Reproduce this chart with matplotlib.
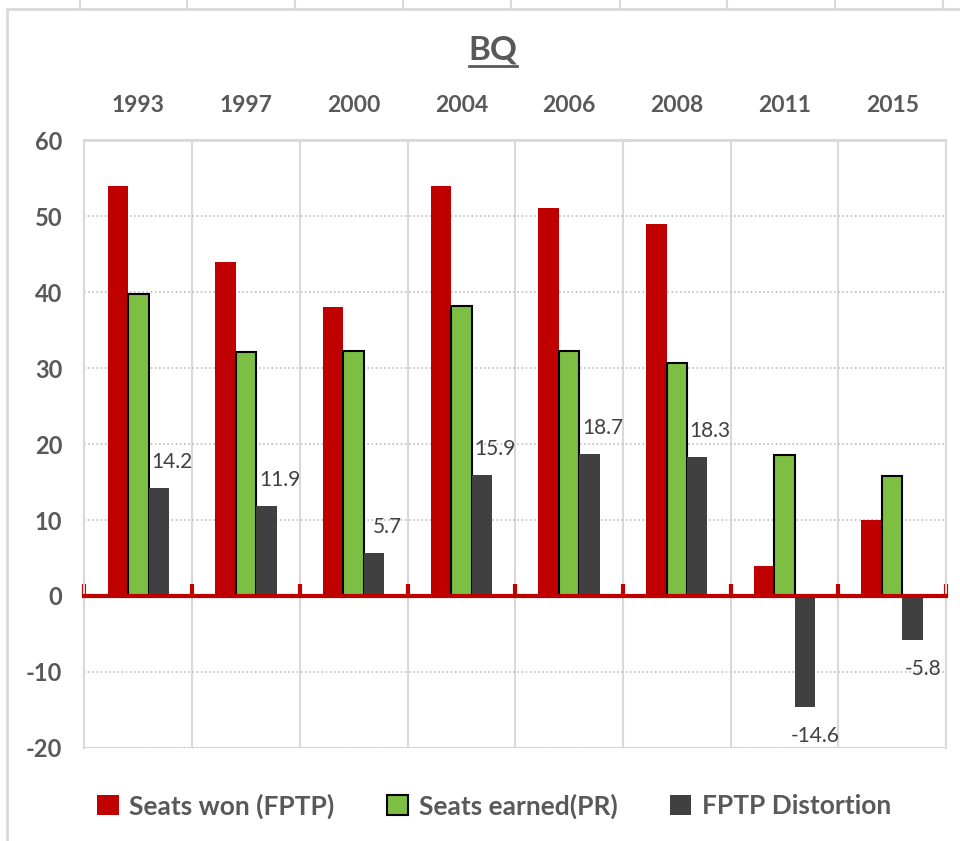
import numpy as np
import matplotlib
matplotlib.use("Agg")
import matplotlib.pyplot as plt
from matplotlib.lines import Line2D
from matplotlib.patches import Rectangle

# data
years = ["1993", "1997", "2000", "2004", "2006", "2008", "2011", "2015"]
seats_won = [54, 44, 38, 54, 51, 49, 4, 10]
seats_earned = [39.8, 32.1, 32.3, 38.1, 32.3, 30.7, 18.6, 15.8]
distortion = [14.2, 11.9, 5.7, 15.9, 18.7, 18.3, -14.6, -5.8]

RED = "#C00000"
GREEN = "#7DBF42"
DARK = "#404040"
GRID = "#D9D9D9"
TXT = "#595959"

plt.rcParams["font.family"] = ["Lato", "DejaVu Sans"]
plt.rcParams["font.weight"] = "bold"
plt.rcParams["axes.unicode_minus"] = False

fig = plt.figure(figsize=(9.6, 8.41), dpi=100)
ax = fig.add_axes([0.088, 0.1106, 0.8974, 0.7229])

x = np.arange(len(years))
w = 0.19
ax.bar(x - w, seats_won, w, color=RED, label="Seats won (FPTP)", zorder=3)
ax.bar(x, seats_earned, w, color=GREEN, edgecolor="black", linewidth=1.5,
       label="Seats earned(PR)", zorder=3)
bars = ax.bar(x + w, distortion, w, color=DARK, label="FPTP Distortion", zorder=3)

# data labels for distortion
for b, v in zip(bars, distortion):
    cx = b.get_x() + b.get_width() / 2
    off = (13, 26) if v >= 0 else (10, -29)
    ax.annotate(f"{v:.1f}", (cx, v), xytext=off, textcoords="offset pixels",
                ha="center", va="center", fontsize=15, fontweight="normal",
                color=DARK, zorder=4)

ax.set_xlim(-0.5, len(years) - 0.5)
ax.set_ylim(-20, 60)
ax.set_yticks(np.arange(-20, 61, 10))

# years on top, category boundaries as minor ticks
ax.set_xticks(x)
ax.set_xticklabels(years)
ax.set_xticks(np.arange(-0.5, len(years), 1.0), minor=True)
ax.tick_params(axis="x", which="major", bottom=False, top=False,
               labelbottom=False, labeltop=True, pad=14,
               labelsize=16.5, labelcolor=TXT)
ax.tick_params(axis="x", which="minor", bottom=True, top=False, direction="in",
               length=9, width=3, color=RED)
ax.tick_params(axis="y", length=0, pad=16, labelsize=17, labelcolor=TXT)

# grid
ax.grid(axis="x", which="minor", color=GRID, linewidth=1.5, linestyle="-", zorder=0)
ax.grid(axis="x", which="major", visible=False)
ax.grid(axis="y", which="major", color="#BFBFBF", linewidth=1.2, linestyle=(0, (1, 1.5)), zorder=0)
ax.axhline(-20, color=GRID, linewidth=2, zorder=1)
ax.axhline(60, color=GRID, linewidth=2, zorder=1)

ax.spines["bottom"].set_position(("data", 0))
ax.spines["bottom"].set_color(RED)
ax.spines["bottom"].set_linewidth(3)
ax.spines["bottom"].set_zorder(5)
for s in ["left", "right", "top"]:
    ax.spines[s].set_color(GRID)
    ax.spines[s].set_linewidth(1.5)

# title with underline
title = fig.text(0.5135, 1 - 50 / 841, "BQ", ha="center", va="center",
                 fontsize=24, fontweight="bold", color=TXT)
fig.canvas.draw()
bb = title.get_window_extent()
fig.add_artist(Line2D([bb.x0 / 960, bb.x1 / 960],
                      [(bb.y0 - 1) / 841, (bb.y0 - 1) / 841],
                      transform=fig.transFigure, color=TXT, linewidth=2))

# legend
leg = fig.legend(loc="center", bbox_to_anchor=(0.515, 1 - 806 / 841), ncol=3,
                 frameon=False, prop={"size": 19, "weight": "bold"},
                 handlelength=0.8, handleheight=0.8,
                 columnspacing=2.0, handletextpad=0.4)
for t in leg.get_texts():
    t.set_color(TXT)

# chart frame and spreadsheet cells above it
fig.add_artist(Rectangle((7 / 960, -0.1), 1.2, (841 - 9) / 841 + 0.1,
                         transform=fig.transFigure, fill=False,
                         edgecolor=GRID, linewidth=2))
for cx in [80, 187, 295, 403, 511, 620, 727, 835, 943]:
    fig.add_artist(Line2D([cx / 960, cx / 960], [1 - 8 / 841, 1],
                          transform=fig.transFigure, color=GRID, linewidth=1.5))

fig.savefig("out.png", dpi=100)
